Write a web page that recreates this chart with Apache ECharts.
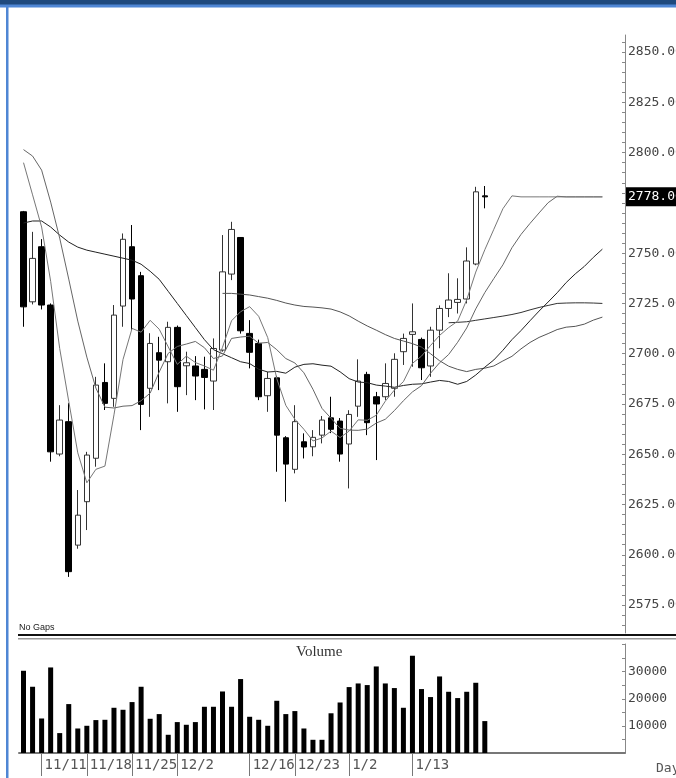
<!DOCTYPE html>
<html>
<head>
<meta charset="utf-8">
<script src="https://cdn.jsdelivr.net/npm/echarts@6/dist/echarts.min.js"></script>
<style>
  html, body { margin: 0; padding: 0; background: #fff; }
  #chart { width: 676px; height: 778px; }
</style>
</head>
<body>
<div id="chart"></div>
<script>
// trading days shown on the chart
const dates = ['11/7','11/8','11/11','11/12','11/13','11/14','11/15','11/18','11/19','11/20',
  '11/21','11/22','11/25','11/26','11/27','11/28','11/29','12/2','12/3','12/4',
  '12/5','12/6','12/9','12/10','12/13','12/16','12/17','12/18','12/19','12/20',
  '12/23','12/24','12/26','12/27','12/30','12/31','1/2','1/3','1/6','1/7',
  '1/8','1/9','1/10','1/13','1/14','1/15','1/16','1/17','1/20','1/21',
  '1/22','1/23'];
const futureSlots = 15;
const tickDates = ['11/11','11/18','11/25','12/2','12/16','12/23','1/2','1/13'];

const opens = [2770.6, 2725.8, 2753.2, 2724.2, 2650.1, 2666.2, 2604.8, 2626.4, 2648.0, 2685.7,
  2677.8, 2723.7, 2753.2, 2738.8, 2682.8, 2700.5, 2696.0, 2713.1, 2694.0, 2693.9,
  2692.2, 2686.4, 2701.8, 2739.6, 2757.8, 2710.1, 2705.1, 2679.1, 2688.0, 2658.2,
  2642.5, 2656.2, 2653.7, 2659.5, 2668.1, 2666.5, 2655.1, 2673.9, 2689.7, 2678.6,
  2678.6, 2682.8, 2701.0, 2709.6, 2707.1, 2693.9, 2711.7, 2722.5, 2725.5, 2727.2,
  2744.6, 2778.5];
const closes = [2723.3, 2747.4, 2724.2, 2651.2, 2667.0, 2591.6, 2619.7, 2649.6, 2684.4, 2675.3,
  2719.2, 2756.9, 2727.2, 2674.8, 2705.1, 2696.8, 2713.1, 2683.6, 2695.5, 2688.9,
  2688.2, 2702.6, 2740.7, 2761.8, 2711.4, 2700.7, 2678.6, 2687.7, 2659.5, 2645.1,
  2666.2, 2653.6, 2658.4, 2667.0, 2662.4, 2650.1, 2669.8, 2686.4, 2665.7, 2675.0,
  2685.2, 2697.2, 2707.6, 2710.9, 2693.0, 2711.7, 2722.5, 2726.7, 2727.0, 2746.1,
  2780.5, 2778.0];
const lows = [2713.4, 2724.5, 2722.0, 2646.3, 2649.0, 2589.0, 2603.0, 2612.3, 2643.8, 2672.0,
  2673.6, 2713.4, 2711.8, 2662.0, 2668.6, 2681.9, 2675.3, 2671.1, 2679.4, 2676.9,
  2672.3, 2672.0, 2701.0, 2736.6, 2710.0, 2692.7, 2676.9, 2671.1, 2641.3, 2626.4,
  2640.5, 2647.9, 2649.0, 2655.4, 2660.5, 2646.3, 2633.0, 2668.6, 2659.5, 2647.1,
  2677.0, 2678.6, 2694.4, 2693.5, 2686.9, 2688.5, 2702.7, 2718.2, 2720.0, 2725.0,
  2744.0, 2772.3];
const highs = [2771.0, 2760.6, 2757.0, 2725.0, 2674.4, 2675.4, 2632.2, 2651.2, 2688.5, 2695.2,
  2724.2, 2759.8, 2764.0, 2740.7, 2710.2, 2708.4, 2715.9, 2714.0, 2701.0, 2698.8,
  2698.5, 2707.6, 2759.0, 2765.6, 2758.0, 2716.7, 2707.0, 2691.0, 2689.0, 2659.0,
  2674.4, 2660.4, 2662.0, 2669.0, 2678.6, 2668.0, 2671.9, 2697.2, 2691.0, 2681.0,
  2695.2, 2700.2, 2710.0, 2725.0, 2708.0, 2713.4, 2724.0, 2740.0, 2737.5, 2752.9,
  2783.0, 2783.4];
const volumes = [30330, 24430, 12730, 31550, 7340, 18040, 9040, 10040, 12140, 12250,
  16680, 15940, 18780, 24430, 12620, 14350, 6720, 11400, 10410, 11400,
  17050, 17050, 22690, 17050, 27270, 13360, 12250, 10040, 19260, 14350,
  15460, 9040, 4870, 4870, 14650, 18630, 24310, 25650, 25050, 31920,
  25650, 23950, 16680, 35870, 23580, 20630, 28230, 22580, 20260, 22580,
  25900, 11770];

// moving-average lines as drawn (they run on past the last bar)
const ma5 = [2795, 2779, 2763, 2736, 2702.6, 2676.3, 2650.7, 2635.8, 2642.5, 2644.1,
  2669.6, 2697.1, 2712.6, 2710.7, 2716.6, 2712.2, 2703.4, 2694.7, 2698.8, 2695.6,
  2693.9, 2691.8, 2703.2, 2716.4, 2720.9, 2723.4, 2718.6, 2708.0, 2687.6, 2674.3,
  2667.4, 2662.4, 2656.6, 2658.1, 2661.5, 2658.3, 2661.5, 2667.1, 2666.9, 2669.4,
  2676.4, 2681.9, 2686.1, 2695.2, 2698.8, 2704.1, 2709.1, 2713.0, 2716.2, 2726.8,
  2740.6, 2751.7, 2761.9, 2772.1, 2778.5, 2778, 2778, 2778, 2778, 2778,
  2778, 2778, 2778, 2778, 2778];
const ma10 = [2801.5, 2798.3, 2791.3, 2775.4, 2757.5, 2737.1, 2716.2, 2698.3, 2682.9, 2673.4,
  2673.0, 2673.9, 2674.2, 2676.6, 2680.4, 2690.9, 2700.2, 2703.6, 2704.8, 2706.1,
  2703.0, 2697.6, 2698.9, 2707.6, 2708.3, 2708.7, 2705.2, 2705.6, 2702.0, 2697.6,
  2695.4, 2690.5, 2682.3, 2672.8, 2667.9, 2662.9, 2662.0, 2661.9, 2662.5, 2665.5,
  2667.4, 2671.7, 2676.6, 2681.0, 2684.1, 2690.3, 2695.5, 2699.6, 2705.7, 2712.8,
  2722.3, 2730.4, 2737.4, 2744.2, 2752.7, 2759.3, 2764.8, 2770.0, 2775.1, 2778.3,
  2778, 2778, 2778, 2778, 2778];
const ma25 = [2765, 2766, 2766, 2763, 2759, 2755.5, 2753, 2751.5, 2750.5, 2749.5,
  2748.5, 2747.5, 2746.5, 2744.5, 2741, 2737, 2731, 2725, 2719, 2713,
  2707, 2702, 2700, 2698, 2696.0, 2695.1, 2692.3, 2690.9, 2691.2, 2690.3,
  2693.3, 2694.7, 2695.0, 2694.3, 2693.8, 2691.0, 2687.6, 2685.9, 2685.6, 2684.4,
  2683.9, 2683.3, 2684.2, 2684.8, 2685.0, 2685.9, 2686.7, 2686.2, 2684.8, 2686.2,
  2689.4, 2693.3, 2696.9, 2701.7, 2707.0, 2711.5, 2716.4, 2721.2, 2725.7, 2730.3,
  2735.4, 2739.7, 2743.4, 2747.9, 2752.0];
const ma50 = [null, null, null, null, null, null, null, null, null, null,
  null, null, null, null, null, null, null, null, null, null,
  null, null, 2730, 2730, 2729.6, 2729.2, 2728.4, 2727.6, 2726.5, 2725.2,
  2724.2, 2723.5, 2723.2, 2722.8, 2722.2, 2720.8, 2718.8, 2716.2, 2713.8, 2711.7,
  2709.5, 2707.6, 2706.3, 2705, 2703.3, 2700, 2696.5, 2693.8, 2692.2, 2691.1,
  2692.2, 2692.8, 2693.9, 2696.4, 2698.7, 2702.4, 2705.6, 2708.1, 2710.0, 2712.0,
  2713.2, 2713.6, 2714.7, 2716.7, 2718.2];
const ma75 = [null, null, null, null, null, null, null, null, null, null,
  null, null, null, null, null, null, null, null, null, null,
  null, null, null, null, null, null, null, null, null, null,
  null, null, null, null, null, null, null, null, null, null,
  null, null, null, null, null, null, null, 2715.4, 2715.6, 2715.9,
  2716.6, 2717.3, 2718, 2718.7, 2719.5, 2720.5, 2721.8, 2723, 2724, 2725,
  2725.2, 2725.3, 2725.3, 2725.2, 2725];

const lastPrice = 2778;
const priceLabels = [2575, 2600, 2625, 2650, 2675, 2700, 2725, 2750, 2800, 2825, 2850];
const volumeLabels = [10000, 20000, 30000];

const categories = dates.concat(new Array(futureSlots).fill(''));
const candles = opens.map((o, i) => [o, closes[i], lows[i], highs[i]]);

const priceTicks = [];
for (let v = 2565; v <= 2855; v += 5) priceTicks.push(v);
const volTicks = [];
for (let v = 5000; v <= 40000; v += 5000) volTicks.push(v);

const mono = 'DejaVu Sans Mono';
const chart = echarts.init(document.getElementById('chart'));

function maLine(name, data, color) {
  return {
    name: name, type: 'line', data: data, xAxisIndex: 0, yAxisIndex: 0,
    symbol: 'none', connectNulls: false, silent: true,
    lineStyle: { width: 1, color: color }
  };
}

chart.setOption({
  animation: false,
  backgroundColor: '#fff',
  textStyle: { fontFamily: mono },
  grid: [
    { left: 19, right: 51, top: 35, height: 598, containLabel: false, outerBoundsMode: 'none' },
    { left: 19, right: 51, top: 644, height: 109, containLabel: false, outerBoundsMode: 'none' }
  ],
  xAxis: [
    {
      type: 'category', gridIndex: 0, data: categories, boundaryGap: true,
      axisLine: { show: false }, axisTick: { show: false }, axisLabel: { show: false },
      splitLine: { show: false }
    },
    {
      type: 'category', gridIndex: 1, data: categories, boundaryGap: true, offset: 2,
      axisLine: { show: true, lineStyle: { color: '#777', width: 2 } },
      axisTick: {
        show: true, alignWithLabel: true, length: 23,
        interval: (i, v) => tickDates.indexOf(v) >= 0,
        lineStyle: { color: '#777', width: 1 }
      },
      axisLabel: {
        interval: (i, v) => tickDates.indexOf(v) >= 0,
        align: 'left', padding: [0, 0, 0, 3], margin: 3,
        color: '#555', fontFamily: mono, fontSize: 14
      },
      splitLine: { show: false }
    }
  ],
  yAxis: [
    {
      type: 'value', gridIndex: 0, position: 'right', min: 2561.1, max: 2858.5,
      axisLine: { show: true, lineStyle: { color: '#888' } },
      axisTick: { show: true, inside: true, length: 3, customValues: priceTicks, lineStyle: { color: '#888' } },
      axisLabel: {
        customValues: priceLabels, formatter: v => v.toFixed(2),
        color: '#444', fontFamily: mono, fontSize: 13, margin: 3
      },
      splitLine: { show: false }
    },
    {
      type: 'value', gridIndex: 1, position: 'right', min: 0, max: 40200,
      axisLine: { show: true, lineStyle: { color: '#888' } },
      axisTick: { show: true, inside: true, length: 3, customValues: volTicks, lineStyle: { color: '#888' } },
      axisLabel: {
        customValues: volumeLabels, formatter: v => String(v),
        color: '#444', fontFamily: mono, fontSize: 13, margin: 3
      },
      splitLine: { show: false }
    }
  ],
  series: [
    maLine('MA75', ma75, '#333'),
    maLine('MA50', ma50, '#555'),
    maLine('MA25', ma25, '#222'),
    maLine('MA10', ma10, '#666'),
    maLine('MA5', ma5, '#777'),
    {
      name: 'Price', type: 'candlestick', data: candles, xAxisIndex: 0, yAxisIndex: 0,
      barWidth: 6,
      itemStyle: { color: '#fff', color0: '#000', borderColor: '#333', borderColor0: '#000', borderWidth: 1 },
      markLine: {
        silent: true, symbol: ['none', 'none'], animation: false,
        lineStyle: { color: 'rgba(0,0,0,0)', width: 1, type: 'solid' },
        label: {
          show: true, position: 'end', distance: 1, formatter: lastPrice.toFixed(2),
          color: '#fff', backgroundColor: '#000', padding: [3, 2, 3, 2],
          fontFamily: mono, fontSize: 13
        },
        data: [{ yAxis: lastPrice }]
      }
    },
    {
      name: 'Volume', type: 'bar', data: volumes, xAxisIndex: 1, yAxisIndex: 1,
      barWidth: 5, itemStyle: { color: '#000' }
    }
  ],
  graphic: [
    { type: 'rect', shape: { x: 0, y: 0, width: 676, height: 5 }, style: { fill: '#1f497d' }, silent: true },
    { type: 'rect', shape: { x: 0, y: 4.5, width: 676, height: 3 }, style: { fill: '#4f86d4' }, silent: true },
    { type: 'rect', shape: { x: 6, y: 7, width: 2.5, height: 771 }, style: { fill: '#4f86d4' }, silent: true },
    { type: 'rect', shape: { x: 18, y: 634, width: 658, height: 2 }, style: { fill: '#111' }, silent: true },
    { type: 'rect', shape: { x: 18, y: 638, width: 658, height: 1.5 }, style: { fill: '#999' }, silent: true },
    { type: 'text', left: 19, top: 623, style: { text: 'No Gaps', font: '9px "Liberation Sans"', fill: '#222' }, silent: true },
    { type: 'text', left: 296, top: 645, style: { text: 'Volume', font: '15px "Liberation Serif"', fill: '#333' }, silent: true },
    { type: 'text', left: 656, top: 762, style: { text: 'Day', font: '13px "DejaVu Sans Mono"', fill: '#555' }, silent: true }
  ]
});
</script>
</body>
</html>
